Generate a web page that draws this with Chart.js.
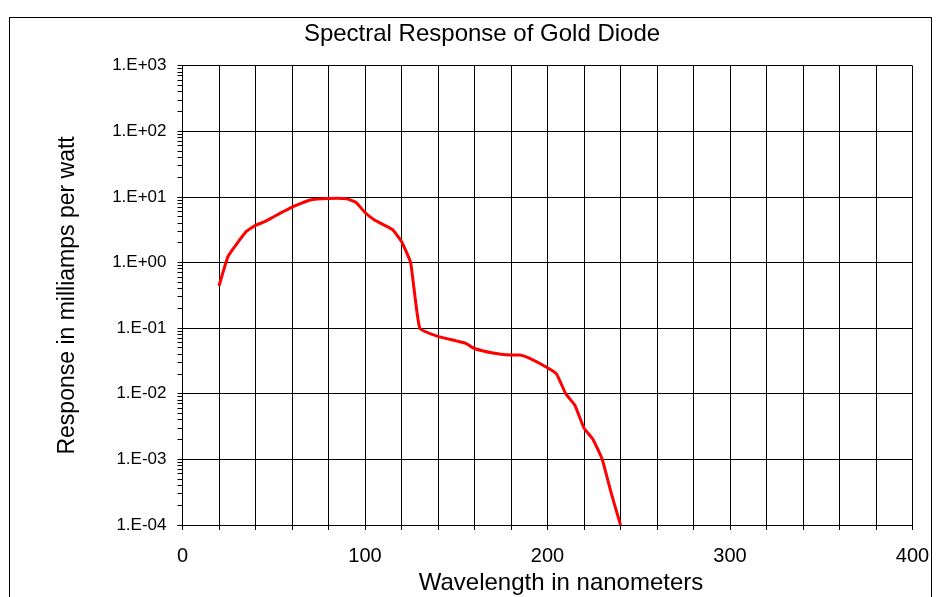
<!DOCTYPE html>
<html lang="en">
<head>
    <meta charset="UTF-8">
    <title>Spectral Response of Gold Diode</title>
    <script src="https://cdn.jsdelivr.net/npm/chart.js"></script>
    <style>
        body {
            margin: 0;
            background-color: #ffffff;
        }
        #wrap {
            position: relative;
            width: 940px;
            height: 597px;
        }
    </style>
</head>
<body>
    <div id="wrap">
        <canvas id="spectralChart" width="940" height="597"></canvas>
    </div>

    <script>
        // wavelength (nm) and response (mA/W)
        const wavelengths = [20, 25, 35, 40, 45, 50, 60, 70, 80, 90, 95, 100, 105, 110, 115, 120, 125, 130,
                             140, 150, 155, 160, 170, 180, 185, 190, 200, 205, 210, 215, 220, 225, 230, 235, 240];
        const response = [0.44, 1.25, 3.0, 3.7, 4.2, 5.0, 7.0, 9.0, 9.5, 9.4, 8.3, 5.8, 4.5, 3.8, 3.2, 2.1, 1.0, 0.1,
                          0.075, 0.064, 0.059, 0.049, 0.042, 0.039, 0.039, 0.035, 0.025, 0.02, 0.01, 0.0067, 0.003, 0.002, 0.001, 0.0003, 0.0001];
        const yDecades = [1e-4, 1e-3, 1e-2, 1e-1, 1e0, 1e1, 1e2, 1e3];
        const xLabelTicks = [0, 100, 200, 300, 400];

        const fontName = "'Liberation Sans', Arial, sans-serif";
        const xTitle = 'Wavelength in nanometers';

        function isDecade(v) {
            return yDecades.some(d => Math.abs(v / d - 1) < 1e-6);
        }

        function sciLabel(v) {
            const e = Math.round(Math.log10(v));
            const sign = e < 0 ? '-' : '+';
            return '1.E' + sign + String(Math.abs(e)).padStart(2, '0');
        }

        // white background, outer frame and the x axis caption (sits a bit right of centre in the original)
        const frame = {
            id: 'frame',
            beforeDraw(chart) {
                const ctx = chart.ctx;
                ctx.save();
                ctx.fillStyle = '#ffffff';
                ctx.fillRect(0, 0, chart.width, chart.height);
                ctx.strokeStyle = '#000000';
                ctx.lineWidth = 1;
                ctx.strokeRect(9.5, 17.5, 922, 620);
                ctx.restore();
            },
            afterDraw(chart) {
                const ctx = chart.ctx;
                ctx.save();
                ctx.fillStyle = '#000000';
                ctx.font = '24px ' + fontName;
                ctx.textAlign = 'center';
                ctx.textBaseline = 'alphabetic';
                ctx.fillText(xTitle, 561, 590);
                ctx.restore();
            }
        };

        new Chart(document.getElementById('spectralChart'), {
            type: 'line',
            data: {
                datasets: [{
                    label: 'Response',
                    data: wavelengths.map((w, i) => ({ x: w, y: response[i] })),
                    borderColor: '#ff0000',
                    borderWidth: 3,
                    pointRadius: 0,
                    tension: 0.12,
                    fill: false
                }]
            },
            options: {
                responsive: false,
                animation: false,
                devicePixelRatio: 1,
                layout: {
                    padding: { left: 51.5, right: 27.5, top: 0, bottom: 0 }
                },
                plugins: {
                    legend: { display: false },
                    tooltip: { enabled: false },
                    title: {
                        display: true,
                        text: 'Spectral Response of Gold Diode',
                        color: '#000000',
                        font: { family: fontName, size: 24, weight: 'normal' },
                        padding: { top: 20, bottom: 17 }
                    }
                },
                scales: {
                    x: {
                        type: 'linear',
                        min: 0,
                        max: 400,
                        afterFit(scale) {
                            scale.height = 72;
                            scale.paddingRight = 0;
                        },
                        ticks: {
                            stepSize: 20,
                            autoSkip: false,
                            maxRotation: 0,
                            padding: 14,
                            color: '#000000',
                            font: { family: fontName, size: 20 },
                            callback: v => xLabelTicks.includes(v) ? String(v) : ''
                        },
                        grid: {
                            color: '#000000',
                            tickColor: '#000000',
                            tickLength: 5,
                            lineWidth: 1
                        },
                        border: { color: '#000000', width: 1 }
                    },
                    y: {
                        type: 'logarithmic',
                        min: 1e-4,
                        max: 1e3,
                        afterFit(scale) { scale.width = 182.5 - 51.5; },
                        afterBuildTicks(scale) {
                            const ticks = [];
                            yDecades.forEach(d => {
                                ticks.push({ value: d });
                                if (d < 1e3) {
                                    for (let k = 2; k <= 9; k++) ticks.push({ value: d * k });
                                }
                            });
                            scale.ticks = ticks;
                        },
                        ticks: {
                            autoSkip: false,
                            padding: 11,
                            color: '#000000',
                            font: { family: fontName, size: 17 },
                            callback: v => isDecade(v) ? sciLabel(v) : ''
                        },
                        grid: {
                            color: ctx => (ctx.tick && isDecade(ctx.tick.value)) ? '#000000' : 'rgba(0,0,0,0)',
                            tickColor: '#000000',
                            tickLength: 5,
                            lineWidth: 1
                        },
                        border: { color: '#000000', width: 1 },
                        title: {
                            display: true,
                            text: 'Response in milliamps per watt',
                            color: '#000000',
                            font: { family: fontName, size: 23 },
                            padding: { top: 2, bottom: 0 }
                        }
                    }
                }
            },
            plugins: [frame]
        });
    </script>
</body>
</html>
